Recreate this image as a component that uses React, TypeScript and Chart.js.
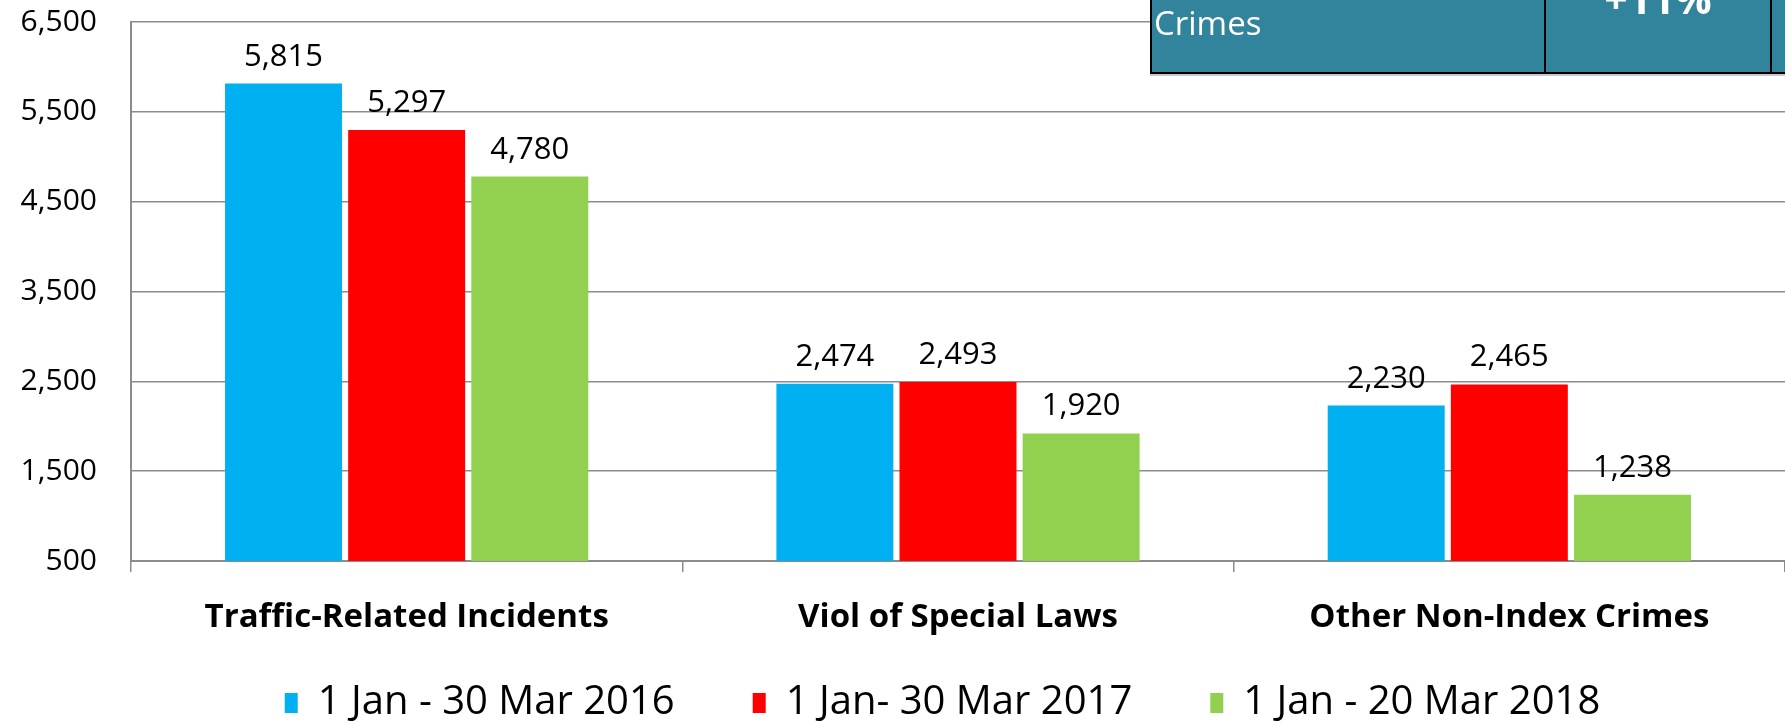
import React, { useEffect, useRef } from "react";
import { Chart, registerables } from "chart.js";

Chart.register(...registerables);

const categories = ["Traffic-Related Incidents", "Viol of Special Laws", "Other Non-Index Crimes"];
const seriesLabels = ["1 Jan - 30 Mar 2016", "1 Jan- 30 Mar 2017", "1 Jan - 20 Mar 2018"];
const values2016 = [5815, 2474, 2230];
const values2017 = [5297, 2493, 2465];
const values2018 = [4780, 1920, 1238];
const seriesColors = ["#00B0F0", "#FF0000", "#92D050"];
const yMin = 500;
const yMax = 6500;
const yStep = 1000;

const FONT = "'Open Sans', Lato, sans-serif";

const valueLabelPlugin = {
  id: "valueLabels",
  afterLayout(chart: any) {
    const lg = chart.legend;
    if (lg) {
      lg.left += 50;
      lg.right += 50;
      lg.top += 7;
      lg.bottom += 7;
    }
  },
  afterDatasetsDraw(chart: any) {
    const ctx = chart.ctx;
    ctx.save();
    ctx.font = `31px ${FONT}`;
    ctx.fillStyle = "#000";
    ctx.textAlign = "center";
    ctx.textBaseline = "alphabetic";
    chart.data.datasets.forEach((ds: any, i: number) => {
      const meta = chart.getDatasetMeta(i);
      meta.data.forEach((bar: any, j: number) => {
        const v = ds.data[j];
        ctx.fillText(v.toLocaleString("en-US"), bar.x, bar.y - 18);
      });
    });
    ctx.restore();
  },
};

export default function App() {
  const ref = useRef<HTMLCanvasElement | null>(null);
  useEffect(() => {
    if (!ref.current) return;
    const chart = new Chart(ref.current, {
      type: "bar",
      data: {
        labels: categories,
        datasets: [values2016, values2017, values2018].map((d, i) => ({
          label: seriesLabels[i],
          data: d,
          backgroundColor: seriesColors[i],
          borderWidth: 0,
        })),
      },
      options: {
        animation: false,
        responsive: false,
        maintainAspectRatio: false,
        layout: { padding: { top: 22, right: 0, left: 0, bottom: 0 } },
        scales: {
          x: {
            afterFit: (s: any) => {
              s.height = 37;
              s._computeLabelArea = () => undefined;
            },
            grid: {
              offset: true,
              drawOnChartArea: false,
              drawTicks: true,
              tickLength: 11,
              color: "#8c8c8c",
              lineWidth: 1.5,
            },
            border: { color: "#8c8c8c", width: 2 },
            ticks: {
              font: { family: FONT, size: 33, weight: "bold" },
              color: "#000",
              padding: 26,
            },
          } as any,
          y: {
            min: yMin,
            max: yMax,
            afterFit: (s: any) => {
              s.width = 131;
              s.paddingTop = 0;
              s.paddingBottom = 0;
            },
            ticks: {
              stepSize: yStep,
              font: { family: FONT, size: 30 },
              color: "#000",
              padding: 34,
              crossAlign: "near",
              callback: (v: any) => Number(v).toLocaleString("en-US"),
            },
            grid: { color: "#8c8c8c", lineWidth: 1.5, drawTicks: false },
            border: { color: "#8c8c8c", width: 2 },
          } as any,
        },
        datasets: { bar: { categoryPercentage: 0.67, barPercentage: 0.95 } } as any,
        plugins: {
          legend: {
            position: "bottom",
            labels: {
              font: { family: FONT, size: 40 },
              color: "#000",
              boxWidth: 13,
              boxHeight: 20,
              padding: 78,
            },
          },
          tooltip: { enabled: false },
        },
      },
      plugins: [valueLabelPlugin],
    });
    return () => chart.destroy();
  }, []);

  return (
    <div style={{ position: "fixed", left: 0, top: 0, width: 1785, height: 726, background: "#fff", overflow: "hidden" }}>
      <canvas ref={ref} width={1785} height={726} style={{ position: "absolute", left: 0, top: 0 }} />
      <div
        style={{
          position: "absolute",
          left: 1150,
          top: 0,
          width: 640,
          height: 72,
          background: "#31849B",
          borderLeft: "2px solid #000",
          borderBottom: "2px solid #000",
          boxShadow: "0 2px 0 #c8c8c8",
          overflow: "hidden",
          fontFamily: FONT,
          color: "#fff",
        }}
      >
        <div style={{ position: "absolute", left: 2, top: 3, fontSize: 33, lineHeight: "40px", whiteSpace: "nowrap" }}>Crimes</div>
        <div style={{ position: "absolute", left: 392, top: 0, width: 2, height: 72, background: "#000" }} />
        <div style={{ position: "absolute", left: 618, top: 0, width: 2, height: 72, background: "#000" }} />
        <div
          style={{
            position: "absolute",
            left: 394,
            width: 224,
            top: -22,
            textAlign: "center",
            fontSize: 41,
            fontWeight: "bold",
            lineHeight: "40px",
            whiteSpace: "nowrap",
          }}
        >
          +11%
        </div>
      </div>
    </div>
  );
}
